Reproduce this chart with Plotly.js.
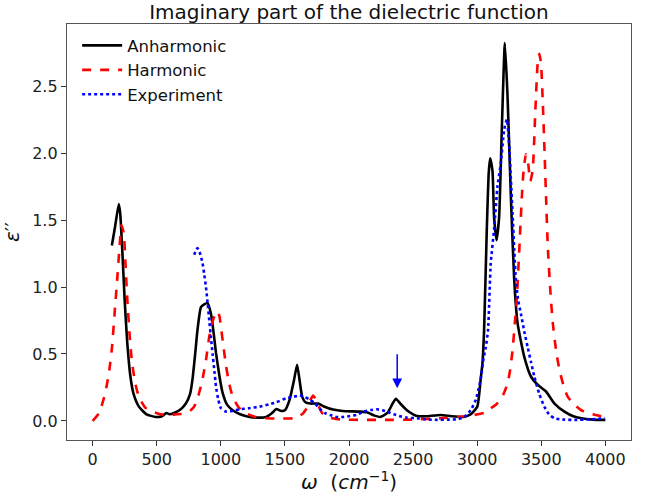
<!DOCTYPE html>
<html>
<head>
<meta charset="utf-8">
<script src="https://cdn.plot.ly/plotly-3.0.1.min.js"></script>
<style>html,body{margin:0;padding:0;background:#fff;}#chart{width:651px;height:494px;}</style>
</head>
<body>
<div id="chart"></div>
<script>
const anhW = [150,175,204,215,230,250,269,295,320,361,420,491,540,575,600,635,690,727,760,779,800,818,845,870,897,923,945,962,990,1014,1050,1093,1150,1224,1300,1354,1400,1433,1471,1500,1537,1570,1595,1615,1635,1660,1700,1760,1800,1877,1950,2086,2139,2200,2243,2300,2340,2366,2400,2452,2500,2531,2600,2714,2800,2897,2950,3001,3027,3041,3054,3075,3090,3101,3119,3132,3151,3171,3192,3216,3237,3263,3289,3315,3367,3420,3472,3537,3603,3681,3750,3812,3900,4000];
const anhV = [1.31,1.45,1.62,1.55,1.30,0.90,0.60,0.33,0.20,0.107,0.05,0.03,0.035,0.06,0.05,0.06,0.09,0.13,0.20,0.31,0.50,0.68,0.85,0.87,0.88,0.80,0.65,0.51,0.33,0.21,0.12,0.08,0.05,0.03,0.025,0.03,0.06,0.09,0.075,0.08,0.16,0.30,0.42,0.30,0.18,0.14,0.13,0.13,0.11,0.085,0.075,0.07,0.065,0.04,0.03,0.06,0.13,0.165,0.13,0.08,0.05,0.037,0.035,0.045,0.035,0.03,0.05,0.107,0.31,0.43,0.68,1.43,1.85,1.96,1.87,1.52,1.35,1.52,2.17,2.82,2.42,1.67,1.05,0.73,0.48,0.33,0.27,0.22,0.13,0.07,0.035,0.02,0.01,0.008];

const harW = [0,50,99,130,151,175,191,210,225,243,255,269,290,308,335,361,410,465,530,596,660,727,765,792,825,857,885,910,935,949,975,990,1001,1020,1041,1065,1093,1140,1197,1270,1354,1450,1563,1610,1642,1680,1700,1720,1740,1759,1790,1825,1900,1955,2100,2300,2500,2714,2900,2975,3054,3106,3150,3184,3210,3237,3257,3276,3293,3310,3336,3350,3362,3380,3398,3414,3433,3453,3472,3485,3498,3511,3524,3538,3551,3570,3590,3615,3642,3675,3707,3760,3812,3900,3995];
const harV = [0.0,0.06,0.21,0.38,0.55,0.85,1.05,1.30,1.46,1.40,1.20,0.93,0.62,0.43,0.27,0.18,0.10,0.07,0.05,0.045,0.05,0.057,0.08,0.107,0.19,0.31,0.46,0.63,0.74,0.78,0.82,0.78,0.70,0.56,0.41,0.28,0.18,0.10,0.057,0.03,0.02,0.018,0.02,0.035,0.057,0.11,0.16,0.19,0.16,0.12,0.06,0.03,0.015,0.01,0.008,0.008,0.01,0.02,0.035,0.045,0.06,0.095,0.125,0.16,0.21,0.28,0.38,0.53,0.72,0.93,1.43,1.70,1.87,1.99,1.92,1.79,1.87,2.30,2.67,2.74,2.67,2.40,2.05,1.65,1.30,0.98,0.73,0.53,0.38,0.26,0.18,0.12,0.08,0.05,0.03];

const expW = [792,805,818,835,857,870,884,897,910,923,936,950,962,980,1001,1041,1090,1145,1220,1302,1380,1433,1511,1563,1616,1660,1694,1735,1773,1810,1851,1904,1955,2008,2060,2112,2170,2217,2260,2296,2350,2400,2450,2531,2600,2688,2770,2845,2900,2949,2990,3027,3050,3067,3085,3106,3132,3158,3184,3210,3231,3250,3263,3276,3289,3302,3320,3341,3367,3394,3420,3446,3485,3524,3560,3603,3680,3760,3880,3995];
const expV = [1.24,1.27,1.29,1.26,1.18,1.10,1.00,0.88,0.75,0.62,0.50,0.37,0.26,0.16,0.095,0.07,0.075,0.087,0.095,0.107,0.125,0.14,0.17,0.18,0.19,0.175,0.16,0.13,0.09,0.06,0.045,0.03,0.03,0.037,0.045,0.07,0.082,0.087,0.08,0.07,0.05,0.035,0.025,0.02,0.012,0.008,0.01,0.013,0.03,0.08,0.16,0.31,0.47,0.55,0.68,1.18,1.43,1.75,1.92,2.17,2.25,2.05,1.80,1.55,1.28,1.05,0.90,0.80,0.67,0.55,0.44,0.33,0.20,0.107,0.05,0.02,0.01,0.008,0.012,0.02];

const seriesNames = ["Anharmonic","Harmonic","Experiment"];
const xTicks = [0,500,1000,1500,2000,2500,3000,3500,4000];
const yTicks = [0,0.5,1.0,1.5,2.0,2.5];
const arrowX = 2376, arrowTip = 0.245, arrowTail = 0.51;

const font = "DejaVu Sans, sans-serif";
const traces = [
  {x: anhW, y: anhV, name: seriesNames[0], mode: "lines", line: {color: "black", width: 2.6, shape: "spline", smoothing: 0.5}},
  {x: harW, y: harV, name: seriesNames[1], mode: "lines", line: {color: "red", width: 2.6, dash: "dash", shape: "spline", smoothing: 0.5}},
  {x: expW, y: expV, name: seriesNames[2], mode: "lines", line: {color: "blue", width: 2.6, dash: "dot", shape: "spline", smoothing: 0.5}}
];
const axisCommon = {showgrid: false, zeroline: false, showline: true, mirror: true, linecolor: "#555", linewidth: 1.2,
  ticks: "outside", ticklen: 5, tickwidth: 1, tickcolor: "#333", tickfont: {family: font, size: 16, color: "#222"}};
const layout = {
  width: 651, height: 494,
  margin: {l: 67, r: 20, t: 24, b: 54},
  paper_bgcolor: "#fff", plot_bgcolor: "#fff",
  font: {family: font, color: "#111"},
  title: {text: "Imaginary part of the dielectric function", font: {family: font, size: 20, color: "#111"}, x: 0.536, xanchor: "center", y: 0.976, yanchor: "middle", yref: "container"},
  xaxis: Object.assign({}, axisCommon, {range: [-200, 4200], tickvals: xTicks, ticktext: xTicks.map(String),
    title: {text: "<i>ω</i>  (<i>cm</i><sup>−1</sup>)", font: {family: font, size: 20}, standoff: 4}}),
  yaxis: Object.assign({}, axisCommon, {range: [-0.142, 2.963], tickvals: yTicks, ticktext: yTicks.map(v => v.toFixed(1)),
    title: {text: "<i>ε</i>′′", font: {family: font, size: 20}, standoff: 8}}),
  showlegend: true,
  legend: {x: 0.018, y: 0.99, xanchor: "left", yanchor: "top", bgcolor: "rgba(255,255,255,0)", borderwidth: 0,
    font: {family: font, size: 16.5, color: "#111"}, itemwidth: 40},
  annotations: [{x: arrowX, y: arrowTip, ax: arrowX, ay: arrowTail, xref: "x", yref: "y", axref: "x", ayref: "y",
    showarrow: true, arrowhead: 2, arrowsize: 1.3, arrowwidth: 1.5, arrowcolor: "blue", text: ""}]
};
Plotly.newPlot("chart", traces, layout, {displayModeBar: false, staticPlot: true});
</script>
</body>
</html>
